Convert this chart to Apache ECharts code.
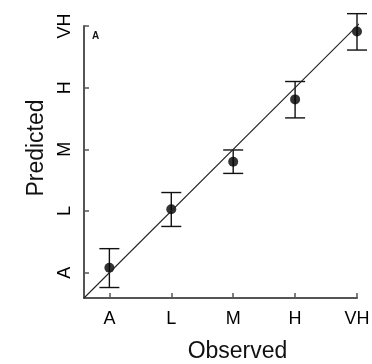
<!DOCTYPE html>
<html>
<head>
<meta charset="utf-8">
<script src="https://cdn.jsdelivr.net/npm/echarts@6/dist/echarts.min.js"></script>
<style>html,body{margin:0;padding:0;background:#fff;}#c{width:372px;height:364px;}</style>
</head>
<body>
<div id="c"></div>
<script>
const categories = ['A', 'L', 'M', 'H', 'VH'];
const tickValues = [1, 2, 3, 4, 5];
const observed = [1, 2, 3, 4, 5];
const predicted = [1.08, 2.03, 2.80, 3.81, 4.91];
const lower = [0.76, 1.75, 2.61, 3.51, 4.61];
const upper = [1.39, 2.30, 2.99, 4.10, 5.20];
const identityLine = [[0.59, 0.59], [5.25, 5.25]];

const font = 'Liberation Sans, Arial, Helvetica, sans-serif';
const chart = echarts.init(document.getElementById('c'), null, {renderer: 'canvas'});
const fmt = v => categories[tickValues.indexOf(Math.round(v))] || '';

chart.setOption({
  animation: false,
  backgroundColor: '#fff',
  grid: {left: 84, right: 15, top: 26, bottom: 66, containLabel: false, outerBoundsMode: 'none'},
  xAxis: {
    type: 'value', min: 0.59, max: 5,
    name: 'Observed', nameLocation: 'middle', nameGap: 42,
    nameTextStyle: {fontFamily: font, fontSize: 23, color: '#111', padding: [0, 0, 0, 34]},
    axisLine: {show: true, lineStyle: {color: '#555', width: 2}},
    axisTick: {show: true, inside: true, length: 5, customValues: tickValues, lineStyle: {color: '#555', width: 1.5}},
    axisLabel: {customValues: tickValues, formatter: fmt, margin: 12, fontFamily: font, fontSize: 18, color: '#000'},
    splitLine: {show: false}
  },
  yAxis: {
    type: 'value', min: 0.59, max: 5,
    name: 'Predicted', nameLocation: 'middle', nameGap: 35,
    nameTextStyle: {fontFamily: font, fontSize: 23, color: '#111', padding: [0, 0, 0, 28]},
    axisLine: {show: true, lineStyle: {color: '#555', width: 2}},
    axisTick: {show: true, inside: true, length: 5, customValues: tickValues, lineStyle: {color: '#555', width: 1.5}},
    axisLabel: {customValues: tickValues, formatter: fmt, rotate: 90, margin: 10, fontFamily: font, fontSize: 18, color: '#000'},
    splitLine: {show: false}
  },
  graphic: [{
    type: 'text', left: 92, top: 31,
    style: {text: 'A', font: 'bold 10px ' + font, fill: '#111'}
  }],
  series: [
    {
      type: 'line', data: identityLine, symbol: 'none', clip: false, silent: true,
      lineStyle: {color: '#222', width: 1.1}
    },
    {
      type: 'custom', clip: false, silent: true,
      data: observed.map((x, i) => [x, lower[i], upper[i]]),
      renderItem: function (params, api) {
        const lo = api.coord([api.value(0), api.value(1)]);
        const hi = api.coord([api.value(0), api.value(2)]);
        const w = 10;
        const st = {stroke: '#111', lineWidth: 1.4};
        return {type: 'group', children: [
          {type: 'line', shape: {x1: lo[0], y1: lo[1], x2: hi[0], y2: hi[1]}, style: st},
          {type: 'line', shape: {x1: lo[0] - w, y1: lo[1], x2: lo[0] + w, y2: lo[1]}, style: st},
          {type: 'line', shape: {x1: hi[0] - w, y1: hi[1], x2: hi[0] + w, y2: hi[1]}, style: st}
        ]};
      }
    },
    {
      type: 'scatter', clip: false, symbol: 'circle', symbolSize: 10,
      data: observed.map((x, i) => [x, predicted[i]]),
      itemStyle: {color: '#000'}
    }
  ]
});
</script>
</body>
</html>
